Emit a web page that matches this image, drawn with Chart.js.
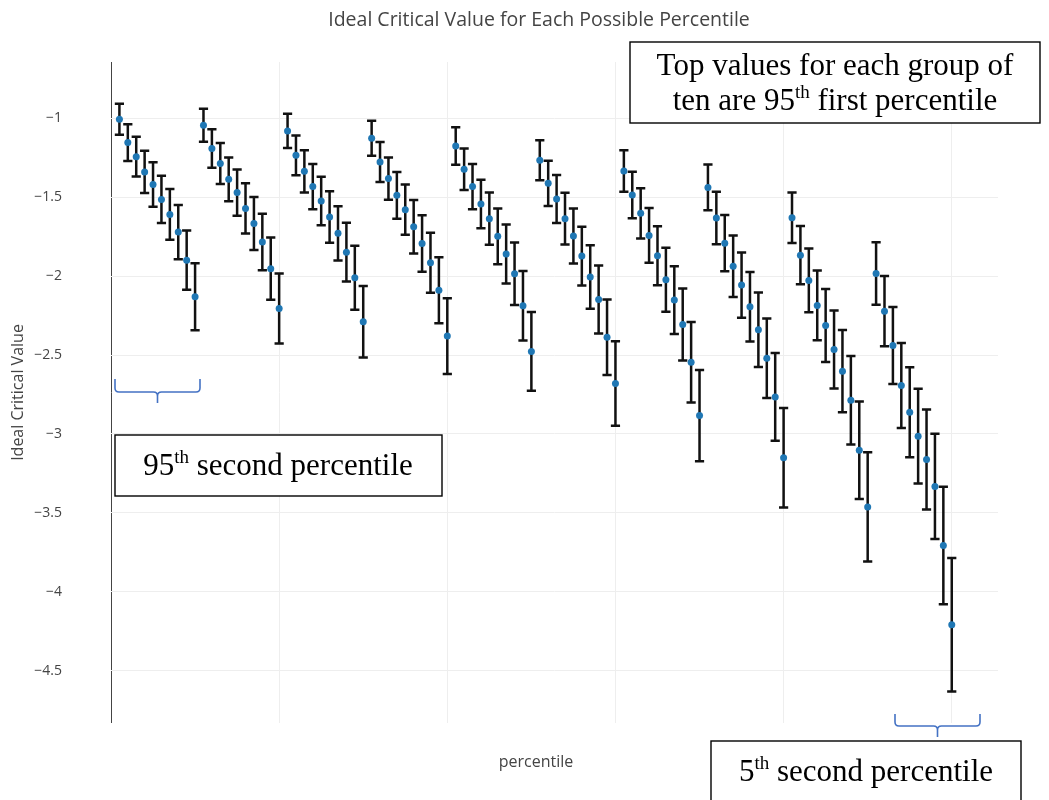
<!DOCTYPE html>
<html>
<head>
<meta charset="utf-8">
<script src="https://cdn.jsdelivr.net/npm/chart.js@4.4.1/dist/chart.umd.min.js"></script>
<style>
html,body{margin:0;padding:0;background:#fff;}
#wrap{width:1049px;height:800px;position:relative;}
</style>
</head>
<body>
<div id="wrap"><canvas id="c"></canvas></div>
<script>
// ---- data ----
const percentile = [1,2,3,4,5,6,7,8,9,10,11,12,13,14,15,16,17,18,19,20,21,22,23,24,25,26,27,28,29,30,31,32,33,34,35,36,37,38,39,40,41,42,43,44,45,46,47,48,49,50,51,52,53,54,55,56,57,58,59,60,61,62,63,64,65,66,67,68,69,70,71,72,73,74,75,76,77,78,79,80,81,82,83,84,85,86,87,88,89,90,91,92,93,94,95,96,97,98,99,100];

const group1  = [-1.006,-1.154,-1.243,-1.340,-1.419,-1.514,-1.609,-1.721,-1.899,-2.131];
const group2  = [-1.044,-1.192,-1.287,-1.387,-1.471,-1.571,-1.666,-1.784,-1.953,-2.205];
const group3  = [-1.080,-1.235,-1.336,-1.433,-1.524,-1.626,-1.729,-1.848,-2.010,-2.289];
const group4  = [-1.127,-1.277,-1.382,-1.488,-1.579,-1.687,-1.793,-1.915,-2.089,-2.380];
const group5  = [-1.176,-1.323,-1.433,-1.543,-1.636,-1.748,-1.860,-1.985,-2.188,-2.477];
const group6  = [-1.266,-1.412,-1.512,-1.636,-1.746,-1.873,-2.006,-2.148,-2.387,-2.680];
const group7  = [-1.334,-1.486,-1.602,-1.742,-1.871,-2.023,-2.152,-2.306,-2.545,-2.883];
const group8  = [-1.438,-1.632,-1.791,-1.937,-2.057,-2.194,-2.340,-2.520,-2.765,-3.150];
const group9  = [-1.630,-1.867,-2.027,-2.186,-2.313,-2.465,-2.602,-2.786,-3.103,-3.462];
const group10 = [-1.983,-2.222,-2.439,-2.693,-2.862,-3.014,-3.162,-3.332,-3.706,-4.209];

const err1  = [0.098,0.116,0.126,0.134,0.141,0.150,0.161,0.172,0.188,0.212];
const err2  = [0.105,0.122,0.130,0.138,0.146,0.159,0.168,0.179,0.197,0.222];
const err3  = [0.108,0.126,0.134,0.143,0.153,0.163,0.172,0.186,0.203,0.227];
const err4  = [0.111,0.127,0.134,0.148,0.159,0.169,0.179,0.190,0.209,0.240];
const err5  = [0.119,0.132,0.143,0.153,0.165,0.176,0.187,0.198,0.220,0.249];
const err6  = [0.127,0.143,0.152,0.164,0.174,0.186,0.201,0.216,0.239,0.268];
const err7  = [0.132,0.148,0.159,0.174,0.187,0.203,0.214,0.228,0.255,0.289];
const err8  = [0.145,0.166,0.178,0.195,0.206,0.220,0.236,0.252,0.278,0.315];
const err9  = [0.160,0.185,0.202,0.221,0.231,0.247,0.260,0.280,0.309,0.346];
const err10 = [0.198,0.222,0.244,0.269,0.285,0.300,0.317,0.334,0.372,0.423];

const yTicks = [-1,-1.5,-2,-2.5,-3,-3.5,-4,-4.5];
const xGrid = [0,20,40,60,80,100];

const chartTitle = "Ideal Critical Value for Each Possible Percentile";
const xTitle = "percentile";
const yTitle = "Ideal Critical Value";

// ---- build ----
const values = [].concat(group1,group2,group3,group4,group5,group6,group7,group8,group9,group10);
const errors = [].concat(err1,err2,err3,err4,err5,err6,err7,err8,err9,err10);
const points = percentile.map((p,i)=>({x:p, y:values[i], e:errors[i]}));

const errorBars = {
  id:'errorBars',
  beforeDatasetsDraw(chart){
    const ctx = chart.ctx, xs = chart.scales.x, ys = chart.scales.y;
    ctx.save();
    ctx.strokeStyle = '#111';
    ctx.lineWidth = 2.5;
    ctx.lineCap = 'butt';
    chart.data.datasets[0].data.forEach(d=>{
      const px = xs.getPixelForValue(d.x);
      const t = ys.getPixelForValue(d.y + d.e);
      const b = ys.getPixelForValue(d.y - d.e);
      ctx.beginPath();
      ctx.moveTo(px, t); ctx.lineTo(px, b);
      ctx.moveTo(px-4.6, t); ctx.lineTo(px+4.6, t);
      ctx.moveTo(px-4.6, b); ctx.lineTo(px+4.6, b);
      ctx.stroke();
    });
    ctx.restore();
  }
};

function drawRich(ctx, parts, cx, baseline, size){
  const supSize = Math.round(size*0.62);
  let total = 0;
  parts.forEach(p=>{
    ctx.font = (p.sup?supSize:size)+'px "Liberation Serif", "Times New Roman", serif';
    p.w = ctx.measureText(p.t).width; total += p.w;
  });
  let x = cx - total/2;
  ctx.textAlign = 'left';
  ctx.textBaseline = 'alphabetic';
  parts.forEach(p=>{
    ctx.font = (p.sup?supSize:size)+'px "Liberation Serif", "Times New Roman", serif';
    ctx.fillText(p.t, x, p.sup ? baseline - size*0.38 : baseline);
    x += p.w;
  });
}

function brace(ctx, x1, x2, yTop, yMid, yTip){
  const cx = (x1+x2)/2, r = 4;
  ctx.beginPath();
  ctx.moveTo(x1, yTop);
  ctx.lineTo(x1, yMid - r);
  ctx.quadraticCurveTo(x1, yMid, x1 + r, yMid);
  ctx.lineTo(cx - r, yMid);
  ctx.quadraticCurveTo(cx, yMid, cx, yMid + r);
  ctx.lineTo(cx, yTip);
  ctx.moveTo(cx, yMid + r);
  ctx.quadraticCurveTo(cx, yMid, cx + r, yMid);
  ctx.lineTo(x2 - r, yMid);
  ctx.quadraticCurveTo(x2, yMid, x2, yMid - r);
  ctx.lineTo(x2, yTop);
  ctx.stroke();
}

const annotations = {
  id:'annotations',
  afterDraw(chart){
    const ctx = chart.ctx;
    ctx.save();
    // chart title and x-axis title
    ctx.fillStyle = '#444';
    ctx.textAlign = 'center';
    ctx.textBaseline = 'middle';
    ctx.font = '19.5px "Open Sans", sans-serif';
    ctx.fillText(chartTitle, 539, 20);
    ctx.font = '16px "Open Sans", sans-serif';
    ctx.fillText(xTitle, 536, 762);

    // braces
    ctx.strokeStyle = '#4472C4';
    ctx.lineWidth = 1.6;
    brace(ctx, 115, 200, 379, 392, 403);
    brace(ctx, 895, 980, 714, 726, 737);

    // boxes
    ctx.lineWidth = 1.4;
    ctx.strokeStyle = '#000';
    ctx.fillStyle = '#fff';
    const boxes = [[630,42,410,81],[115,435,327,61],[711,741,310,70]];
    boxes.forEach(b=>{ ctx.fillRect(b[0],b[1],b[2],b[3]); ctx.strokeRect(b[0],b[1],b[2],b[3]); });

    ctx.fillStyle = '#000';
    drawRich(ctx, [{t:'Top values for each group of'}], 835, 75, 31);
    drawRich(ctx, [{t:'ten are 95'},{t:'th',sup:true},{t:' first percentile'}], 835, 110, 31);
    drawRich(ctx, [{t:'95'},{t:'th',sup:true},{t:' second percentile'}], 278, 475, 31);
    drawRich(ctx, [{t:'5'},{t:'th',sup:true},{t:' second percentile'}], 866, 781, 31);
    ctx.restore();
  }
};

new Chart(document.getElementById('c'), {
  type:'scatter',
  data:{ datasets:[{
    data: points,
    backgroundColor:'#1f77b4',
    borderColor:'#1f77b4',
    pointRadius:3.5,
    pointHoverRadius:3.5,
    borderWidth:0
  }]},
  options:{
    responsive:true,
    maintainAspectRatio:false,
    animation:false,
    layout:{ padding:{ left:0, right:51, top:62, bottom:0 } },
    plugins:{ legend:{display:false}, tooltip:{enabled:false}, title:{display:false} },
    scales:{
      x:{
        type:'linear', min:0, max:105.5,
        afterFit(s){ s.height = 77; },
        afterBuildTicks(s){ s.ticks = xGrid.map(v=>({value:v})); },
        ticks:{ display:false },
        border:{ display:false },
        grid:{ drawTicks:false, color:(c)=> c.tick && c.tick.value===0 ? '#444' : '#eeeeee', lineWidth:1 }
      },
      y:{
        type:'linear', min:-4.831, max:-0.6435,
        afterFit(s){ s.width = 111; },
        afterBuildTicks(s){ s.ticks = yTicks.map(v=>({value:v})); },
        ticks:{ padding:49, color:'#444', font:{family:'"Open Sans", sans-serif', size:14},
          callback:(v)=> String(v).replace('-', '\u2212') },
        border:{ display:false },
        grid:{ drawTicks:false, color:'#eeeeee', lineWidth:1 },
        title:{ display:true, text:yTitle, color:'#444', font:{family:'"Open Sans", sans-serif', size:16}, padding:{top:8.4,bottom:0} }
      }
    }
  },
  plugins:[errorBars, annotations]
});
</script>
</body>
</html>
